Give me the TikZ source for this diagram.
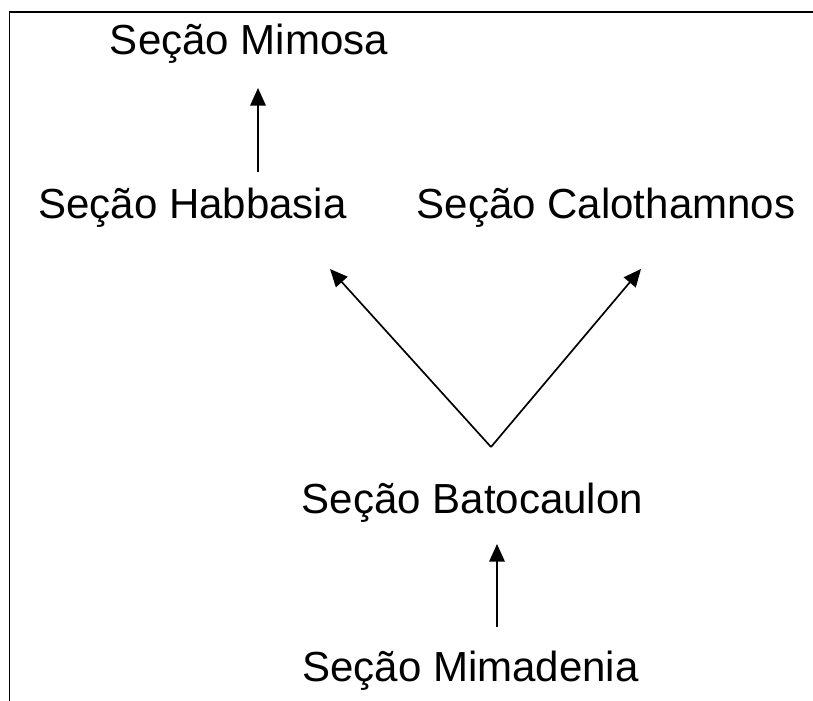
\documentclass[tikz,border=0pt]{standalone}
\usepackage{fontspec}
\setmainfont{Liberation Sans}
\usetikzlibrary{arrows.meta, positioning}

\tikzset{
  secao/.style={anchor=base, inner sep=0pt, font=\fontsize{29.9}{36}\selectfont},
  seta/.style={line width=1.2pt, -{Triangle[length=12.5pt, width=11pt]}}
}

\begin{document}
\begin{tikzpicture}
  \useasboundingbox (0, 0) rectangle (20.325, 17.525);
  \draw[line width=1.4pt] (0.2375, -0.5) |- (20.8, 17.225);

  \node[secao] (mimosa) at (6.225, 16.15) {Seção Mimosa};
  \node[secao] (habbasia) at (4.8125, 12.05) {Seção Habbasia};
  \node[secao] (calothamnos) at (15.15, 12.05) {Seção Calothamnos};
  \node[secao] (batocaulon) at (11.8125, 4.675) {Seção Batocaulon};
  \node[secao] (mimadenia) at (11.7625, 0.5) {Seção Mimadenia};

  \coordinate (hab_top) at (6.45, 13.225);
  \coordinate (mim_bot) at (6.45, 15.325);
  \coordinate (bat_top) at (12.275, 6.35);
  \coordinate (hab_bot) at (8.25, 10.8);
  \coordinate (cal_bot) at (16.025, 10.8);
  \coordinate (mad_top) at (12.425, 1.85);
  \coordinate (bat_bot) at (12.425, 3.925);

  \draw[seta] (hab_top) -- (mim_bot);
  \draw[seta] (bat_top) -- (hab_bot);
  \draw[seta] (bat_top) -- (cal_bot);
  \draw[seta] (mad_top) -- (bat_bot);
\end{tikzpicture}
\end{document}
